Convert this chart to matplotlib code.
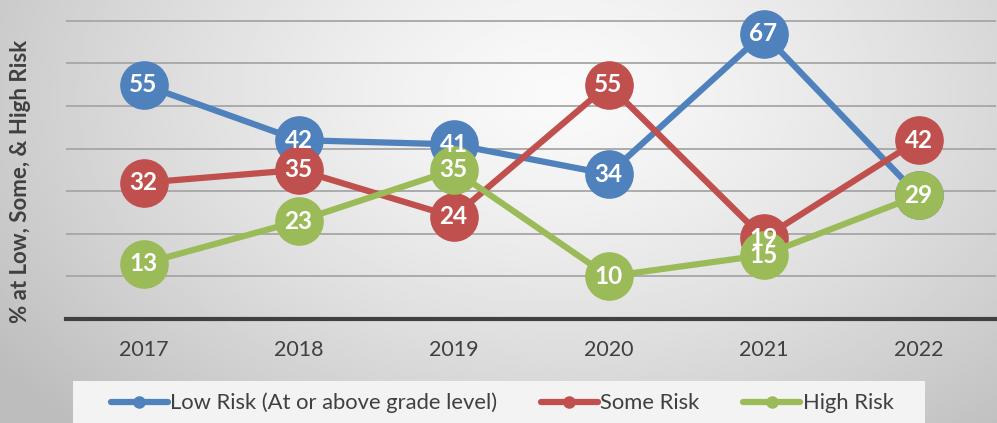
import numpy as np
import matplotlib.pyplot as plt
from matplotlib.lines import Line2D
from matplotlib.patches import Rectangle

years = ["2017", "2018", "2019", "2020", "2021", "2022"]
low_risk = [55, 42, 41, 34, 67, 29]
some_risk = [32, 35, 24, 55, 19, 42]
high_risk = [13, 23, 35, 10, 15, 29]

series_names = ["Low Risk (At or above grade level)", "Some Risk", "High Risk"]
colors = ["#4F81BD", "#C0504D", "#9BBB59"]

fig = plt.figure(figsize=(9.97, 4.23), dpi=100)

# background: gray radial gradient, lighter toward the middle
bg = fig.add_axes([0, 0, 1, 1], zorder=-10)
gx, gy = np.meshgrid(np.linspace(0, 1, 400), np.linspace(0, 1, 200))
dist = np.sqrt(((gx - 0.56) / 0.7) ** 2 + ((gy - 0.22) / 1.1) ** 2)
shade = 0.98 - 0.24 * np.clip(dist, 0, 1) ** 1.3
bg.imshow(shade, cmap="gray", vmin=0, vmax=1, aspect="auto", extent=[0, 1, 0, 1])
bg.axis("off")
# legend panel
bg.add_patch(Rectangle((73 / 997, 0), (925 - 73) / 997, 42 / 423,
                       transform=bg.transAxes, facecolor="#f3f3f3", edgecolor="none"))

ax = fig.add_axes([66 / 997, 1 - 319 / 423, 930 / 997, 319 / 423])
ax.patch.set_alpha(0)

x = np.arange(len(years))
for vals, c in zip([low_risk, some_risk, high_risk], colors):
    ax.plot(x, vals, color=c, lw=4.5, marker="o", ms=34, mec=c, mfc=c,
            solid_capstyle="round", zorder=3)

# data labels on top of every marker (same value at same spot only once)
done = set()
for vals in [low_risk, some_risk, high_risk]:
    for xi, v in zip(x, vals):
        if (xi, v) in done:
            continue
        done.add((xi, v))
        ax.text(xi, v, str(v), ha="center", va="center", color="white",
                fontsize=17.5, fontweight="bold", family="Lato", zorder=5)

ax.set_xlim(-0.5, 5.5)
ax.set_ylim(0, 74.9)
ax.set_yticks(np.arange(10, 71, 10))
ax.yaxis.grid(True, color="#a6a6a6", lw=1.3)
ax.set_axisbelow(True)
ax.tick_params(axis="y", length=0, labelleft=False)
ax.tick_params(axis="x", length=0, pad=15)
ax.set_xticks(x)
ax.set_xticklabels(years, fontsize=15.5, family="Lato", color="#404040")
for s in ["top", "right", "left"]:
    ax.spines[s].set_visible(False)
ax.spines["bottom"].set_color("#404040")
ax.spines["bottom"].set_linewidth(3)

fig.text(21 / 997, 1 - 181 / 423, "% at Low, Some, & High Risk", rotation=90,
         ha="center", va="center", fontsize=16, fontweight="bold",
         family="Lato", color="#404040")

handles = [Line2D([], [], color=c, lw=4.5, marker="o", ms=8, solid_capstyle="round")
           for c in colors]
leg = fig.legend(handles, series_names, loc="center", ncol=3,
                 bbox_to_anchor=(502 / 997, 1 - 403 / 423),
                 prop={"family": "Lato", "size": 15.8},
                 frameon=False, handlelength=2.6, handletextpad=0.1,
                 columnspacing=2.0, borderpad=0.3)
for t in leg.get_texts():
    t.set_color("#404040")

fig.savefig("out.png", dpi=100)
